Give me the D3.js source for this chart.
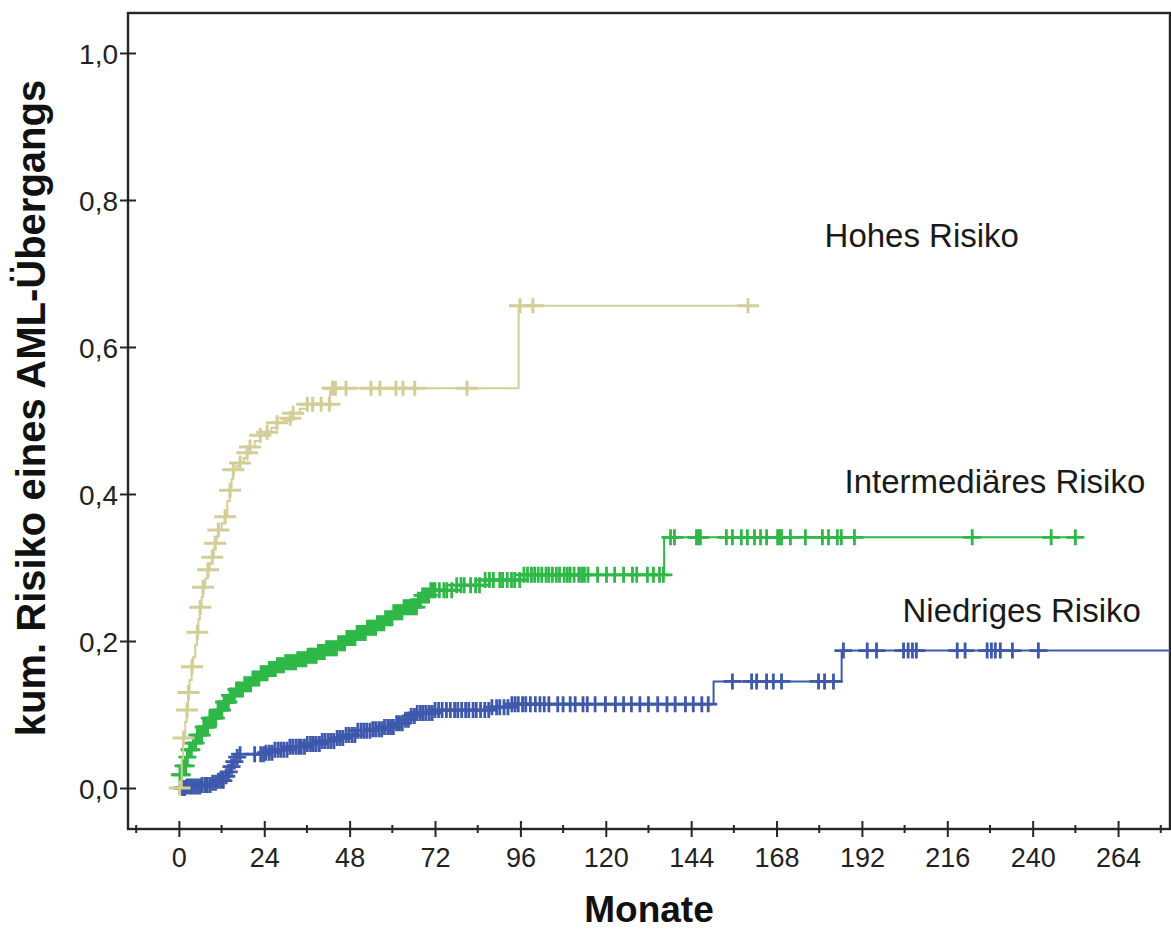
<!DOCTYPE html>
<html>
<head>
<meta charset="utf-8">
<script src="https://cdnjs.cloudflare.com/ajax/libs/d3/7.8.5/d3.min.js"></script>
<style>
  html, body { margin: 0; padding: 0; background: #fff; }
  svg { display: block; font-family: "Liberation Sans", Arial, sans-serif; }
</style>
</head>
<body>
<svg id="chart" width="1171" height="932"></svg>
<script>
// x axis: Monate, y axis: cumulative risk
const xMajorTicks = [0, 24, 48, 72, 96, 120, 144, 168, 192, 216, 240, 264];
const xMinorTicks = [-12, 12, 36, 60, 84, 108, 132, 156, 180, 204, 228, 252, 276];
const yTicks = [0, 0.2, 0.4, 0.6, 0.8, 1.0];

const groupNames = ['Intermediäres Risiko', 'Niedriges Risiko', 'Hohes Risiko'];
const groupColors = ['#2eb848', '#3e58ac', '#d3ce97'];

// step points [month, cumulative risk]
const hohesSteps = [
  [0, 0], [0.8, 0.04], [1.2, 0.068], [1.8, 0.09], [2.2, 0.106], [2.6, 0.13], [3.0, 0.147],
  [3.6, 0.165], [4.0, 0.178], [4.6, 0.195], [5.1, 0.212], [5.5, 0.23], [5.9, 0.246],
  [6.4, 0.26], [6.8, 0.273], [7.4, 0.285], [8.1, 0.297], [8.7, 0.306], [9.3, 0.314],
  [9.8, 0.325], [10.2, 0.333], [10.6, 0.342], [11.0, 0.351], [12.0, 0.36], [12.9, 0.369],
  [13.6, 0.39], [14.3, 0.405], [14.8, 0.42], [15.2, 0.433], [16.2, 0.438], [17.1, 0.442],
  [18.2, 0.449], [19.1, 0.456], [19.9, 0.464], [21.3, 0.472], [22.8, 0.48], [24.7, 0.484],
  [26.0, 0.49], [27.5, 0.497], [29.5, 0.5], [31.2, 0.503], [32.0, 0.51], [34.0, 0.516],
  [36.0, 0.522], [42.5, 0.544], [95.5, 0.656], [160, 0.656]
];
const hohesCensored = [
  0.2, 1.3, 2.3, 2.7, 3.7, 5.2, 6.0, 6.8, 8.2, 9.4, 10.2, 11.1, 13.0, 14.4, 15.3, 17.2,
  19.2, 20.0, 22.9, 24.8, 27.6, 31.3, 32.1, 36.1, 37.6, 40.0, 42.3, 43.2, 44.0, 47.0,
  54.0, 56.5, 61.0, 63.0, 66.3, 81.0, 95.9, 99.5, 160
];

const interSteps = [
  [0, 0], [0.3, 0.018], [1.0, 0.03], [2.2, 0.042], [3.0, 0.052], [3.9, 0.061], [5.2, 0.072],
  [6.7, 0.083], [8.5, 0.095], [10.7, 0.106], [12.5, 0.117], [14.3, 0.126], [16.0, 0.134],
  [18.0, 0.141], [20.5, 0.149], [22.8, 0.156], [25.0, 0.162], [27.5, 0.167], [30.0, 0.171],
  [33.1, 0.175], [36.0, 0.18], [38.8, 0.185], [41.5, 0.19], [44.4, 0.197], [47.0, 0.204],
  [50.0, 0.211], [53.0, 0.218], [55.6, 0.224], [58.0, 0.231], [60.1, 0.239], [63.0, 0.246],
  [66.9, 0.256], [68.5, 0.262], [70.5, 0.269], [78.0, 0.276], [86.0, 0.283], [96.0, 0.29],
  [136.4, 0.341], [252, 0.341]
];
const interCensored = [
  0.3, 0.8, 1.3, 1.9, 2.4, 3.0, 3.5, 4.1, 4.7, 5.2, 5.8, 6.4, 7.0, 7.5, 8.1, 8.7, 9.3, 9.8,
  10.4, 11.0, 11.6, 12.1, 12.7, 13.3, 13.9, 14.4, 15.0, 15.6, 16.2, 16.7, 17.3, 17.9, 18.5,
  19.0, 19.6, 20.2, 20.8, 21.3, 21.9, 22.5, 23.1, 23.6, 24.2, 24.8, 25.4, 25.9, 26.5, 27.1,
  27.7, 28.2, 28.8, 29.4, 30.0, 30.5, 31.1, 31.7, 32.3, 32.8, 33.4, 34.0, 34.6, 35.1, 35.7,
  36.3, 36.9, 37.4, 38.0, 38.6, 39.2, 39.7, 40.3, 40.9, 41.5, 42.0, 42.6, 43.2, 43.8, 44.3,
  44.9, 45.5, 46.1, 46.6, 47.2, 47.8, 48.4, 48.9, 49.5, 50.1, 50.7, 51.2, 51.8, 52.4, 53.0,
  53.5, 54.1, 54.7, 55.3, 55.8, 56.4, 57.0, 57.6, 58.1, 58.7, 59.3, 59.9, 60.4, 61.0, 61.6,
  62.2, 62.7, 63.3, 63.9, 64.5, 65.0, 65.6, 66.2, 66.8, 67.3, 67.9, 68.5, 69.1, 69.6, 70.2,
  70.8, 71.4, 72.0, 73.2, 74.5, 75.3, 76.7, 78.1, 79.3, 80.2, 82.0, 83.4, 84.5, 86.1, 87.3,
  88.4, 90.2, 91.0, 92.3, 93.5, 94.4, 95.8, 97.0, 98.0, 99.1, 100.0, 101.0, 102.0, 103.2,
  104.0, 105.0, 106.1, 107.0, 108.3, 109.2, 110.0, 111.1, 112.4, 113.2, 114.0, 115.0, 117.7,
  120.2, 122.5, 125.0, 127.5, 128.7, 131.7, 133.4, 135.1, 136.2, 138.2, 139.3, 145.5, 146.1,
  146.6, 153.9, 155.6, 158.1, 159.8, 161.8, 163.5, 165.2, 168.3, 168.8, 169.4, 171.9, 176.1,
  180.9, 182.6, 185.1, 186.2, 189.9, 223.0, 245.2, 252.0
];

const niedrigSteps = [
  [0, 0], [2.0, 0.002], [6.0, 0.004], [9.0, 0.007], [10.7, 0.01], [12.6, 0.016], [13.6, 0.022],
  [14.6, 0.029], [15.5, 0.036], [16.3, 0.042], [17.1, 0.046], [24.0, 0.048], [27.0, 0.052],
  [31.0, 0.056], [36.0, 0.06], [40.0, 0.064], [44.4, 0.068], [47.0, 0.072], [50.0, 0.078],
  [54.0, 0.08], [57.3, 0.083], [61.0, 0.088], [63.0, 0.093], [65.0, 0.098], [66.8, 0.102],
  [72.0, 0.106], [88.0, 0.11], [93.0, 0.114], [150.3, 0.145], [186.3, 0.187], [278.6, 0.187]
];
const niedrigCensored = [
  1.0, 1.6, 2.3, 3.0, 3.7, 4.4, 5.2, 5.9, 6.5, 7.3, 8.0, 8.8, 9.5, 10.3, 11.1, 11.8, 12.5,
  13.3, 14.0, 14.8, 15.6, 16.4, 17.2, 21.3, 23.0, 23.8, 24.5, 25.4, 26.2, 27.0, 27.9, 28.7,
  29.5, 30.4, 31.2, 32.0, 32.9, 33.7, 34.4, 35.3, 36.1, 37.0, 37.8, 38.6, 39.5, 40.3, 41.1,
  42.0, 42.8, 43.6, 44.5, 45.3, 46.1, 47.0, 47.8, 48.7, 49.5, 50.3, 51.2, 52.0, 52.8, 53.7,
  54.5, 55.3, 56.2, 57.0, 57.8, 58.7, 59.5, 60.3, 61.2, 62.0, 62.8, 63.7, 64.5, 65.3, 66.2,
  67.0, 67.9, 68.7, 69.5, 70.4, 71.2, 72.0, 73.0, 74.0, 75.2, 76.3, 77.5, 78.4, 79.5, 80.6,
  81.5, 82.7, 83.6, 84.8, 86.0, 87.1, 88.0, 89.3, 90.2, 91.4, 92.5, 93.6, 94.5, 95.4, 96.6,
  97.5, 98.8, 100.2, 101.5, 102.7, 104.0, 106.5, 108.0, 110.0, 111.4, 113.6, 114.8, 117.0,
  119.9, 122.7, 125.0, 127.2, 129.6, 132.0, 134.6, 137.2, 139.5, 142.4, 144.6, 147.0, 148.8,
  155.6, 161.0, 162.4, 165.2, 167.1, 169.4, 179.8, 181.5, 184.0, 186.8, 193.5, 196.1, 203.7,
  205.0, 206.2, 207.3, 218.8, 221.0, 227.2, 228.4, 229.5, 230.9, 234.3, 241.6
];

// where the group names sit, in [month, risk]
const labelAnchors = [[187.1, 0.401], [203.4, 0.226], [181.5, 0.736]];

const allSteps = [interSteps, niedrigSteps, hohesSteps];
const allCensored = [interCensored, niedrigCensored, hohesCensored];
// censor cross half-width / half-height / stroke per group
const markShape = [[9, 8, 2.8], [9, 8, 2.8], [11, 7.5, 3]];

const svg = d3.select('#chart');
const plotLeft = 128, plotRight = 1170, plotTop = 13, plotBottom = 829;

const x = d3.scaleLinear().domain([-14.3, 278.6]).range([plotLeft, plotRight]);
const y = d3.scaleLinear().domain([-0.0558, 1.0544]).range([plotBottom, plotTop]);

function riskAt(steps, t) {
  let v = 0;
  steps.forEach(function (s) { if (s[0] <= t) v = s[1]; });
  return v;
}

// frame
svg.append('rect')
  .attr('x', plotLeft).attr('y', plotTop)
  .attr('width', plotRight - plotLeft).attr('height', plotBottom - plotTop)
  .attr('fill', 'none').attr('stroke', '#262626').attr('stroke-width', 2.4);

// x axis
const xAxis = svg.append('g')
  .attr('transform', `translate(0,${plotBottom})`)
  .call(d3.axisBottom(x).tickValues(xMajorTicks).tickSize(8).tickPadding(0));
xAxis.select('.domain').remove();
xAxis.selectAll('.tick line').attr('y1', -8).attr('y2', 8).attr('stroke', '#262626').attr('stroke-width', 2);
xAxis.selectAll('.tick text')
  .attr('y', 38).attr('dy', null)
  .style('font-size', '27px').style('fill', '#222').style('font-family', '"Liberation Sans", Arial, sans-serif');

svg.append('g').selectAll('line')
  .data(xMinorTicks)
  .join('line')
  .attr('x1', d => x(d)).attr('x2', d => x(d))
  .attr('y1', plotBottom - 4).attr('y2', plotBottom + 4)
  .attr('stroke', '#262626').attr('stroke-width', 2);

// y axis
const yAxis = svg.append('g')
  .attr('transform', `translate(${plotLeft},0)`)
  .call(d3.axisLeft(y).tickValues(yTicks).tickSize(8).tickPadding(0)
    .tickFormat(d => d3.format('.1f')(d).replace('.', ',')));
yAxis.select('.domain').remove();
yAxis.selectAll('.tick line').attr('x1', -8).attr('x2', 8).attr('stroke', '#262626').attr('stroke-width', 2);
yAxis.selectAll('.tick text')
  .attr('x', -10).attr('dy', '0.36em')
  .style('font-size', '28px').style('fill', '#222').style('font-family', '"Liberation Sans", Arial, sans-serif');

// axis titles
svg.append('text')
  .attr('x', (plotLeft + plotRight) / 2).attr('y', 922)
  .attr('text-anchor', 'middle')
  .style('font-size', '37px').style('font-weight', 'bold').style('fill', '#111')
  .text('Monate');

svg.append('text')
  .attr('transform', 'translate(45,408) rotate(-90)')
  .attr('text-anchor', 'middle')
  .style('font-size', '40px').style('font-weight', 'bold').style('fill', '#111')
  .text('kum. Risiko eines AML-Übergangs');

// curves
const line = d3.line()
  .x(d => x(d[0]))
  .y(d => y(d[1]))
  .curve(d3.curveStepAfter);

const plot = svg.append('g');
allSteps.forEach(function (steps, i) {
  const g = plot.append('g');
  g.append('path')
    .datum(steps)
    .attr('d', line)
    .attr('fill', 'none')
    .attr('stroke', groupColors[i])
    .attr('stroke-width', 2);

  // censoring marks
  const [hw, hh, sw] = markShape[i];
  g.selectAll('path.cens')
    .data(allCensored[i])
    .join('path')
    .attr('class', 'cens')
    .attr('d', function (t) {
      const cx = x(t), cy = y(riskAt(steps, t));
      return `M${cx - hw},${cy}H${cx + hw}M${cx},${cy - hh}V${cy + hh}`;
    })
    .attr('fill', 'none')
    .attr('stroke', groupColors[i])
    .attr('stroke-width', sw);
});

// group labels
svg.append('g').selectAll('text')
  .data(groupNames)
  .join('text')
  .attr('x', (d, i) => x(labelAnchors[i][0]))
  .attr('y', (d, i) => y(labelAnchors[i][1]))
  .style('font-size', '33px').style('fill', '#1a1a1a')
  .text(d => d);
</script>
</body>
</html>
